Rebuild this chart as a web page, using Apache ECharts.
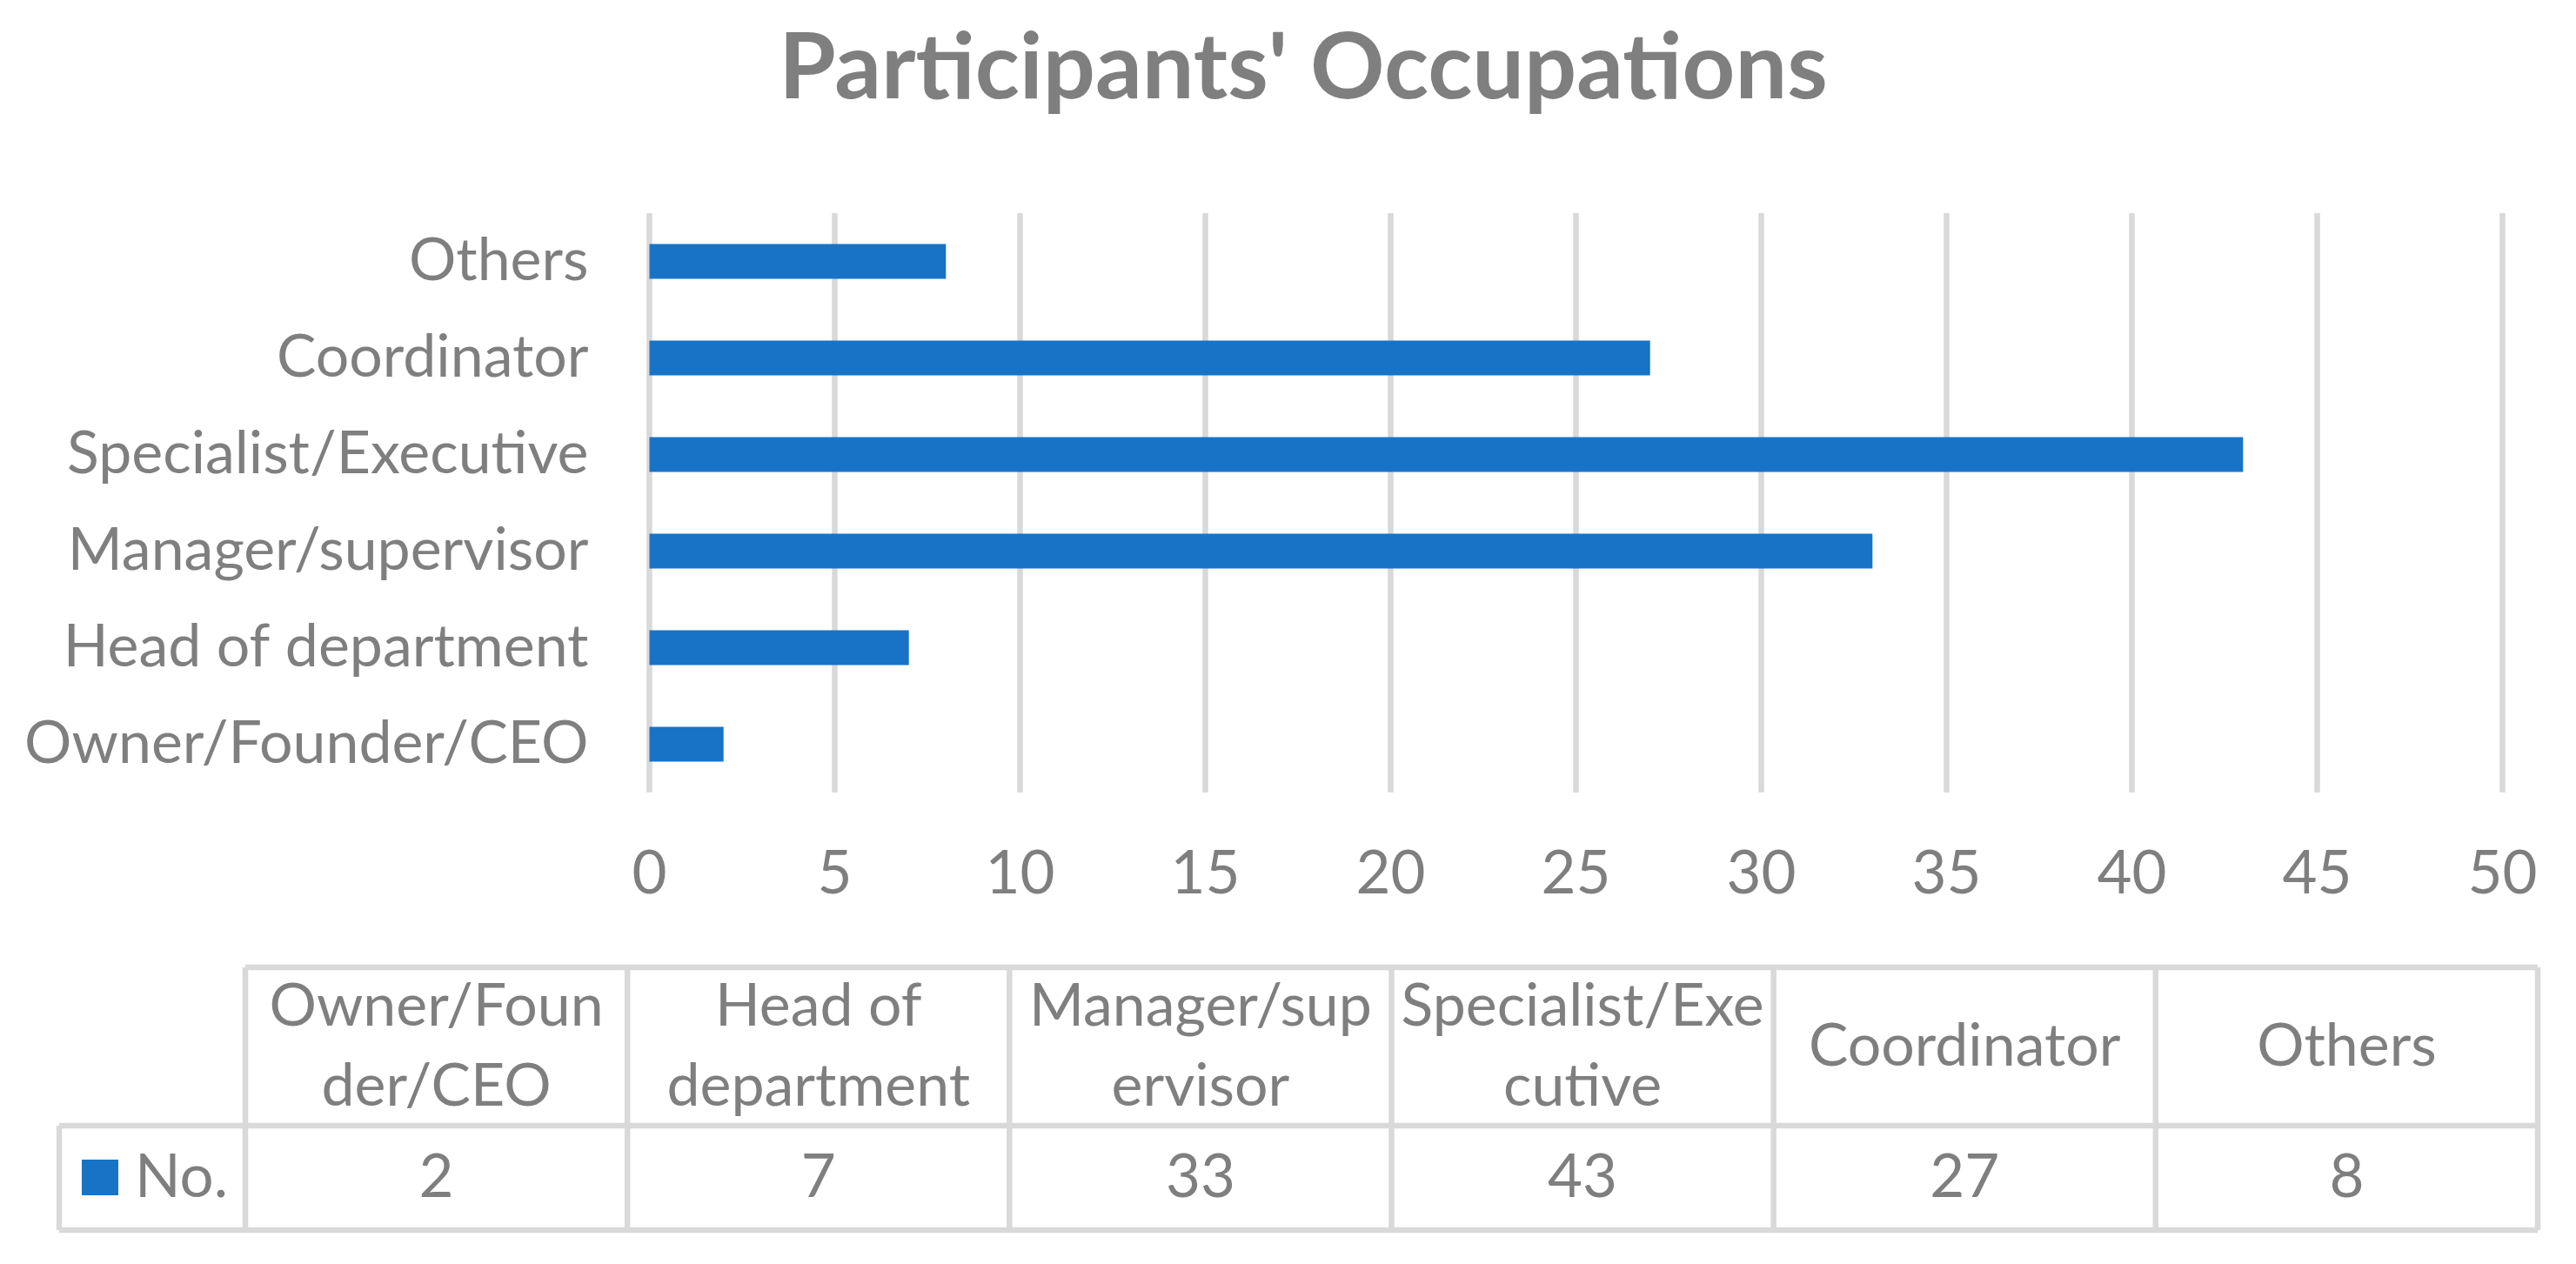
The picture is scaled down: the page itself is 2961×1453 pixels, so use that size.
<!DOCTYPE html>
<html>
<head>
<meta charset="utf-8">
<script src="https://cdn.jsdelivr.net/npm/echarts@6/dist/echarts.min.js"></script>
<style>
  html, body { margin: 0; padding: 0; background: #ffffff; }
  #chart { width: 2961px; height: 1453px; }
</style>
</head>
<body>
<div id="chart"></div>
<script>
// ---- data ----
const titleText = "Participants' Occupations";
const seriesName = 'No.';
const categories = ['Owner/Founder/CEO', 'Head of department', 'Manager/supervisor', 'Specialist/Executive', 'Coordinator', 'Others'];
const values = [2, 7, 33, 43, 27, 8];
const tableHeaders = ['Owner/Foun\nder/CEO', 'Head of\ndepartment', 'Manager/sup\nervisor', 'Specialist/Exe\ncutive', 'Coordinator', 'Others'];
const axisMin = 0, axisMax = 50, axisStep = 5;

// ---- style / layout ----
const FONT = 'Lato';
const GRAY = '#7f7f7f';
const LINE = '#d9d9d9';
const BLUE = '#1873c7';
const LW = 6.5;

const tbl = {
  left: 68, headLeft: 282, right: 2917,
  top: 1112, mid: 1294, bottom: 1414
};
const colW = (tbl.right - tbl.headLeft) / categories.length;

const graphics = [];
function line(x1, y1, x2, y2) {
  graphics.push({ type: 'line', shape: { x1, y1, x2, y2 }, style: { stroke: LINE, lineWidth: LW }, silent: true });
}
// horizontal lines
line(tbl.headLeft, tbl.top, tbl.right, tbl.top);
line(tbl.left, tbl.mid, tbl.right, tbl.mid);
line(tbl.left, tbl.bottom, tbl.right, tbl.bottom);
// vertical lines
line(tbl.left, tbl.mid, tbl.left, tbl.bottom);
for (let i = 0; i <= categories.length; i++) {
  const x = tbl.headLeft + i * colW;
  line(x, tbl.top, x, tbl.bottom);
}
// header and value texts
tableHeaders.forEach((h, i) => {
  const cx = tbl.headLeft + (i + 0.5) * colW;
  graphics.push({
    type: 'text', x: cx, y: (tbl.top + tbl.mid) / 2,
    style: { text: h, fill: GRAY, font: '68px ' + FONT, align: 'center', verticalAlign: 'middle', lineHeight: 92 }
  });
  graphics.push({
    type: 'text', x: cx, y: (tbl.mid + tbl.bottom) / 2,
    style: { text: String(values[i]), fill: GRAY, font: '69px ' + FONT, align: 'center', verticalAlign: 'middle' }
  });
});
// legend key
graphics.push({ type: 'rect', shape: { x: 94, y: 1333, width: 42, height: 41 }, style: { fill: BLUE } });
graphics.push({
  type: 'text', x: 155, y: (tbl.mid + tbl.bottom) / 2,
  style: { text: seriesName, fill: GRAY, font: '69px ' + FONT, align: 'left', verticalAlign: 'middle' }
});

const chart = echarts.init(document.getElementById('chart'), null, { renderer: 'canvas' });
chart.setOption({
  backgroundColor: '#ffffff',
  animation: false,
  title: {
    text: titleText,
    left: 1493,
    top: 74,
    textAlign: 'center',
    textVerticalAlign: 'middle',
    textStyle: { fontFamily: FONT, fontWeight: 'bold', fontSize: 106, color: GRAY }
  },
  grid: { left: 746.5, right: 84.5, top: 245, bottom: 542, containLabel: false },
  xAxis: {
    type: 'value',
    min: axisMin, max: axisMax, interval: axisStep,
    axisLine: { show: false },
    axisTick: { show: false },
    splitLine: { show: true, lineStyle: { color: LINE, width: LW } },
    axisLabel: { fontFamily: FONT, fontSize: 69, color: GRAY, margin: 94, verticalAlign: 'middle' }
  },
  yAxis: {
    type: 'category',
    data: categories,
    axisLine: { show: false },
    axisTick: { show: false },
    splitLine: { show: false },
    axisLabel: { fontFamily: FONT, fontSize: 68, color: GRAY, margin: 70 }
  },
  series: [{
    name: seriesName,
    type: 'bar',
    data: values,
    barWidth: 40,
    itemStyle: { color: BLUE },
    silent: true
  }],
  graphic: graphics
});
</script>
</body>
</html>
